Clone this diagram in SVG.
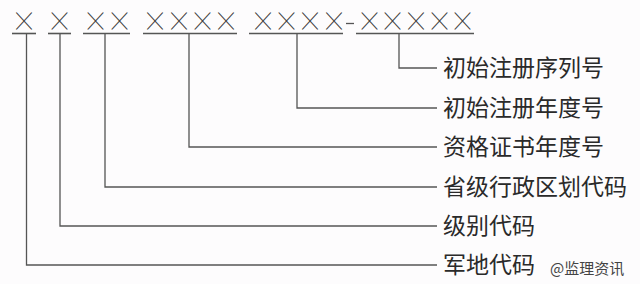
<svg xmlns="http://www.w3.org/2000/svg" width="640" height="284" viewBox="0 0 640 284">
<style>
.x{font-family:"Noto Sans CJK SC",sans-serif;font-size:15.5px;fill:#333;stroke:#333;stroke-width:0.35;text-anchor:middle}
.lbl{font-family:"Noto Sans CJK SC","Noto Sans",sans-serif;font-size:23px;fill:#2a2a2a}
.wm{font-family:"Noto Sans CJK SC",sans-serif;font-size:15px;fill:#444}
.u{stroke:#555;stroke-width:1.6;fill:none}
.c{stroke:#555;stroke-width:1.3;fill:none}
</style>
<rect width="640" height="284" fill="#fdfcfd"/>
<g id="code">
<text class="x" x="24" y="26.5">╳</text>
<text class="x" x="59.5" y="26.5">╳</text>
<text class="x" x="95.5" y="26.5">╳</text>
<text class="x" x="119.5" y="26.5">╳</text>
<text class="x" x="155" y="26.5">╳</text>
<text class="x" x="179" y="26.5">╳</text>
<text class="x" x="202.5" y="26.5">╳</text>
<text class="x" x="226" y="26.5">╳</text>
<text class="x" x="263" y="26.5">╳</text>
<text class="x" x="286.5" y="26.5">╳</text>
<text class="x" x="310" y="26.5">╳</text>
<text class="x" x="334" y="26.5">╳</text>
<text class="x" x="369.5" y="26.5">╳</text>
<text class="x" x="392.5" y="26.5">╳</text>
<text class="x" x="416" y="26.5">╳</text>
<text class="x" x="439.5" y="26.5">╳</text>
<text class="x" x="462.5" y="26.5">╳</text>
<line class="c" x1="346" y1="23.5" x2="354" y2="23.5"/>
<line class="u" x1="12" y1="33.5" x2="36" y2="33.5"/>
<line class="u" x1="48" y1="33.5" x2="71" y2="33.5"/>
<line class="u" x1="83" y1="33.5" x2="130" y2="33.5"/>
<line class="u" x1="143" y1="33.5" x2="237" y2="33.5"/>
<line class="u" x1="249" y1="33.5" x2="343" y2="33.5"/>
<line class="u" x1="356" y1="33.5" x2="474" y2="33.5"/>
</g>
<g id="connectors">
<polyline class="c" points="399,34 399,68 437,68"/>
<polyline class="c" points="297,34 297,108 437,108"/>
<polyline class="c" points="189,34 189,147 437,147"/>
<polyline class="c" points="105,34 105,187 437,187"/>
<polyline class="c" points="60,34 60,226 437,226"/>
<polyline class="c" points="26.5,34 26.5,265 437,265"/>
</g>
<g id="label-seq"><text class="lbl" x="443" y="76">初始注册序列号</text></g>
<g id="label-regyear"><text class="lbl" x="443" y="116">初始注册年度号</text></g>
<g id="label-certyear"><text class="lbl" x="443" y="155">资格证书年度号</text></g>
<g id="label-province"><text class="lbl" x="443" y="195">省级行政区划代码</text></g>
<g id="label-level"><text class="lbl" x="443" y="234">级别代码</text></g>
<g id="label-military"><text class="lbl" x="443" y="273">军地代码</text></g>
<text class="wm" x="550" y="274">@监理资讯</text>
</svg>
